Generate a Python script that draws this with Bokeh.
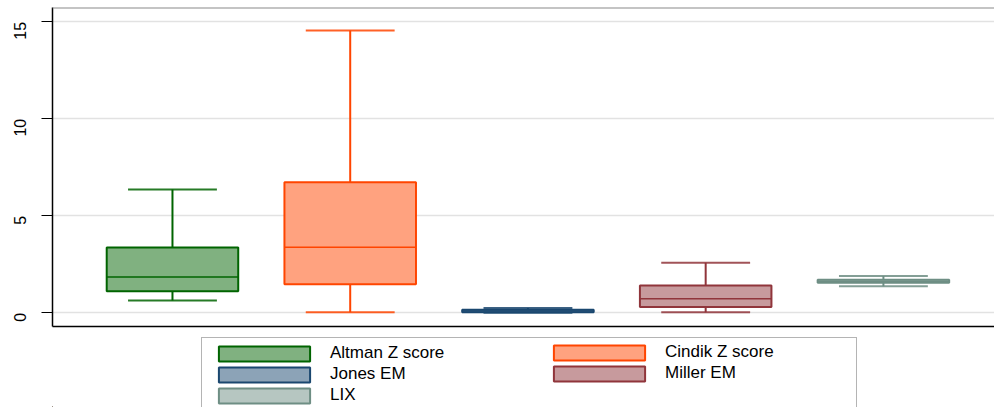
from bokeh.plotting import figure
from bokeh.layouts import column
from bokeh.models import ColumnDataSource, Range1d, FixedTicker, Legend, LegendItem, Span
from bokeh.embed import file_html
from bokeh.resources import INLINE
import math

# ---- data ----
series = ["Altman Z score", "Cindik Z score", "Jones EM", "Miller EM", "LIX"]
lower_whisker = [0.63, 0.02, 0.00, 0.03, 1.36]
q1 = [1.11, 1.47, 0.03, 0.29, 1.55]
median = [1.84, 3.38, 0.09, 0.72, 1.62]
q3 = [3.37, 6.73, 0.15, 1.41, 1.70]
upper_whisker = [6.36, 14.55, 0.25, 2.58, 1.89]
y_ticks = [0, 5, 10, 15]

line_colors = ["#006400", "#FF4500", "#1A476F", "#90353B", "#6E8E84"]
fill_colors = ["#80B180", "#FFA27F", "#8CA3B7", "#C79A9D", "#B6C6C1"]

positions = list(range(1, len(series) + 1))
BOX_W = 0.74
CAP_W = 0.50
Y_START, Y_END = -0.71, 15.74

src = ColumnDataSource(dict(
    x=positions, name=series, lo=lower_whisker, q1=q1, med=median, q3=q3, hi=upper_whisker,
    lc=line_colors, fc=fill_colors,
    cap_l=[p - CAP_W / 2 for p in positions], cap_r=[p + CAP_W / 2 for p in positions],
    box_l=[p - BOX_W / 2 for p in positions], box_r=[p + BOX_W / 2 for p in positions],
))

p = figure(width=994, height=332, output_backend="svg", toolbar_location=None,
           x_range=Range1d(0.325, 5.625), y_range=Range1d(Y_START, Y_END),
           min_border_left=52, min_border_right=0, min_border_top=7, min_border_bottom=6,
           background_fill_color="white", border_fill_color="white")
p.outline_line_color = None

# whiskers
p.segment(x0="x", y0="q3", x1="x", y1="hi", source=src, line_color="lc", line_width=2)
p.segment(x0="x", y0="lo", x1="x", y1="q1", source=src, line_color="lc", line_width=2)
# caps
p.segment(x0="cap_l", y0="hi", x1="cap_r", y1="hi", source=src, line_color="lc", line_width=2, line_alpha=0.85)
p.segment(x0="cap_l", y0="lo", x1="cap_r", y1="lo", source=src, line_color="lc", line_width=2, line_alpha=0.85)
# boxes
boxes = p.vbar(x="x", width=BOX_W, bottom="q1", top="q3", source=src,
               fill_color="fc", line_color="lc", line_width=2)
# medians
p.segment(x0="box_l", y0="med", x1="box_r", y1="med", source=src, line_color="lc", line_width=1.6)

# top border line of the plot region
p.add_layout(Span(location=Y_END, dimension="width", line_color="#8a8a8a", line_width=2))

# axes
p.yaxis.ticker = FixedTicker(ticks=y_ticks)
p.yaxis.major_label_orientation = math.pi / 2
p.yaxis.major_label_text_font = "Liberation Sans"
p.yaxis.major_label_text_font_size = "16px"
p.yaxis.major_label_text_color = "black"
p.yaxis.major_label_standoff = 21
p.yaxis.major_tick_out = 11
p.yaxis.major_tick_in = 0
p.yaxis.minor_tick_line_color = None
p.yaxis.axis_line_width = 1.5
p.yaxis.major_tick_line_width = 1.2
p.yaxis.axis_line_color = "black"

p.xaxis.ticker = FixedTicker(ticks=[])
p.xaxis.major_label_text_font_size = "0px"
p.xaxis.major_tick_line_color = None
p.xaxis.minor_tick_line_color = None
p.xaxis.major_tick_out = 0
p.xaxis.major_label_standoff = 0
p.xaxis.axis_line_width = 1.5
p.xaxis.axis_line_color = "black"

p.xgrid.grid_line_color = None
p.ygrid.grid_line_color = "#E2E2E2"
p.ygrid.grid_line_width = 1.5

# ---- legend strip below the plot ----
pl = figure(width=994, height=75, output_backend="svg", toolbar_location=None,
            x_range=Range1d(1000, 1001), y_range=Range1d(1000, 1001),
            min_border_left=0, min_border_right=0, min_border_top=0, min_border_bottom=0,
            background_fill_color="white", border_fill_color="white")
pl.outline_line_color = None
pl.axis.visible = False
pl.grid.visible = False
# same boxes, kept far outside the strip's view: they only feed the legend swatches
leg_boxes = pl.vbar(x="x", width=BOX_W, bottom="q1", top="q3", source=src,
                    fill_color="fc", line_color="lc", line_width=2)

common = dict(orientation="vertical", glyph_width=114, glyph_height=19, label_height=19,
              label_standoff=9, spacing=1, padding=5, margin=0,
              label_text_font="Liberation Sans", label_text_font_size="17px",
              label_text_color="black")

left_idx = [0, 2, 4]
right_idx = [1, 3]
legend_a = Legend(items=[LegendItem(label=series[i], renderers=[leg_boxes], index=i) for i in left_idx],
                  location=(149, -4), label_width=521,
                  border_line_color="#6a6a6a", border_line_width=1.2,
                  background_fill_color="white", **common)
legend_b = Legend(items=[LegendItem(label=series[i], renderers=[leg_boxes], index=i) for i in right_idx],
                  location=(490, 24), label_width=20,
                  border_line_color=None, background_fill_alpha=0, **common)
pl.add_layout(legend_a)
pl.add_layout(legend_b)

layout = column(p, pl, spacing=0)
open("out.html", "w").write(file_html(layout, INLINE))
